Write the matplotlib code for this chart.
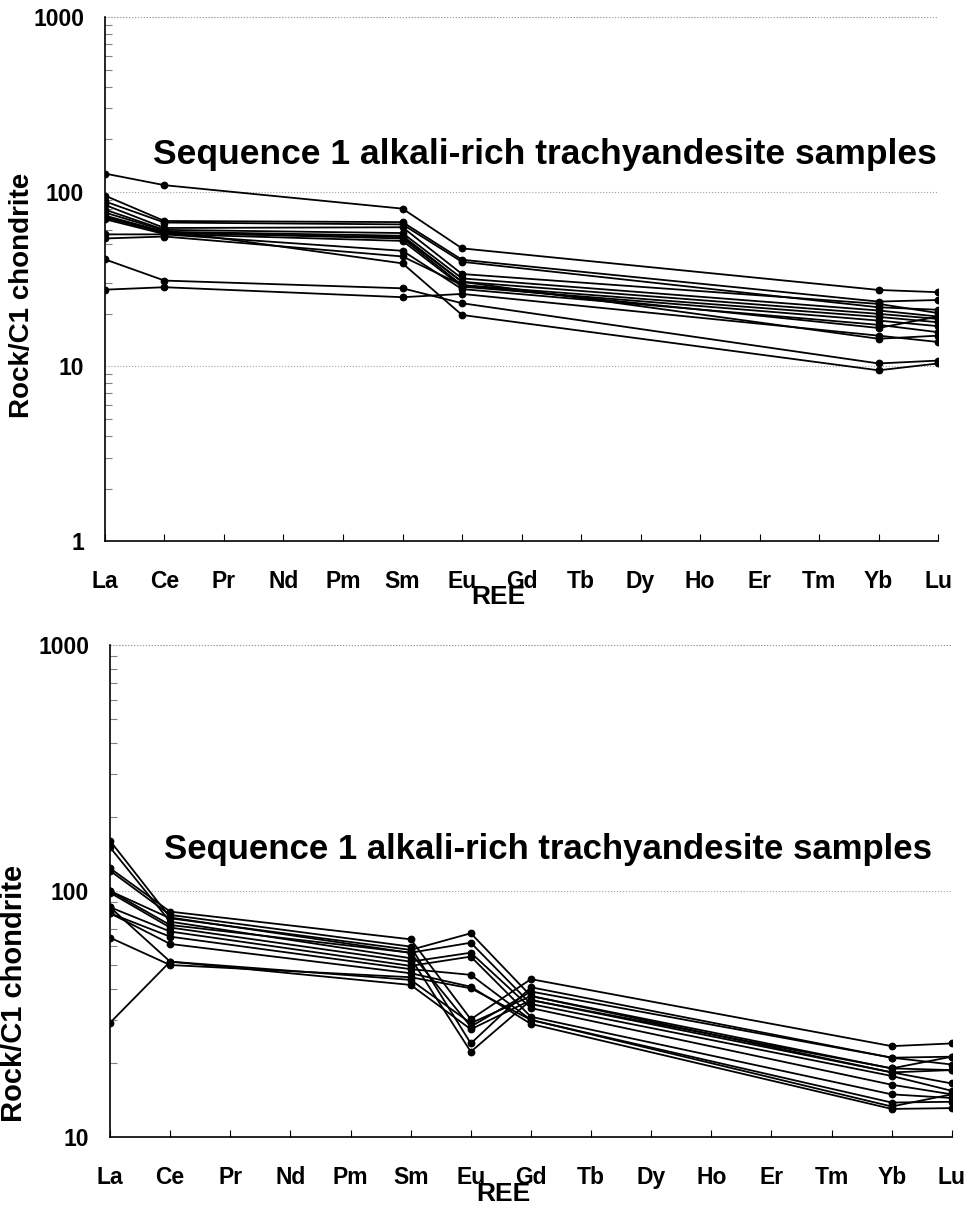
import matplotlib
matplotlib.use("Agg")
import matplotlib.pyplot as plt
import numpy as np
from matplotlib.ticker import LogLocator, FixedLocator, NullFormatter

plt.rcParams['font.family'] = ['Liberation Sans', 'DejaVu Sans']
plt.rcParams['font.weight'] = 'bold'

ree = ["La", "Ce", "Pr", "Nd", "Pm", "Sm", "Eu", "Gd", "Tb", "Dy", "Ho", "Er", "Tm", "Yb", "Lu"]
title = "Sequence 1 alkali-rich trachyandesite samples"

# upper diagram: chondrite-normalised values, one entry per sample
top_elems = ["La", "Ce", "Sm", "Eu", "Yb", "Lu"]
top_la = [127, 95, 88, 84, 79, 73, 71, 69.6, 57, 54, 76, 41, 27.5, 72]
top_ce = [109, 68, 66.6, 62, 60.5, 59, 58.4, 57.2, 57, 55.4, 60, 31, 28.4, 58]
top_sm = [80, 67, 65, 62.6, 58, 56, 54, 52.3, 45.9, 42.6, 38.9, 28, 24.9, 55]
top_eu = [47.4, 40.8, 39.7, 33.8, 31.9, 30.5, 29.2, 28.6, 27.7, 29.2, 19.7, 23.0, 26.0, 30.5]
top_yb = [27.4, 23.5, 21.8, 22.8, 20.9, 20.0, 19.2, 18.3, 17.3, 16.6, 9.5, 10.4, 15.0, 14.4]
top_lu = [26.6, 24.0, 21.1, 20.2, 19.3, 18.7, 17.9, 17.0, 15.7, 19.3, 10.4, 10.8, 13.8, 15.0]

# lower diagram
bot_elems = ["La", "Ce", "Sm", "Eu", "Gd", "Yb", "Lu"]
bot_la = [160, 150.5, 123.7, 120.9, 100, 100, 98.4, 85.9, 81.2, 81.2, 64.6, 29.1, 85.9]
bot_ce = [78, 75, 82.4, 79.9, 77.4, 72.7, 71.0, 68.4, 65.2, 60.9, 50.0, 51.6, 51.6]
bot_sm = [56, 53.3, 63.6, 59.4, 57.6, 56.1, 51.6, 49.6, 48.1, 46.3, 44.6, 43.5, 41.5]
bot_eu = [28.1, 22.2, 30.1, 24.0, 67.3, 61.6, 56.1, 54.1, 45.6, 40.8, 40.2, 29.0, 27.4]
bot_gd = [39.0, 36.0, 43.8, 40.6, 37.4, 34.7, 33.4, 30.8, 29.9, 28.8, 29.9, 37.4, 36.0]
bot_yb = [21.0, 19.0, 23.4, 21.0, 18.3, 17.7, 16.3, 14.9, 13.8, 13.0, 13.3, 19.0, 18.3]
bot_lu = [19.7, 18.7, 24.0, 21.2, 16.5, 15.4, 14.9, 14.4, 13.9, 13.1, 14.9, 21.2, 18.7]


def draw_panel(ax, elems, cols, ymin):
    x = [ree.index(e) for e in elems]
    data = np.array(cols).T
    for row in data:
        ax.plot(x, row, color="black", lw=1.3, marker="o", ms=4.6)

    ax.set_yscale("log")
    ax.set_ylim(ymin, 1000)
    ax.set_xlim(0, len(ree) - 1)

    ax.xaxis.set_major_locator(FixedLocator(range(len(ree))))
    ax.set_xticklabels(ree)
    ax.yaxis.set_major_locator(LogLocator(base=10))
    ax.yaxis.set_minor_locator(LogLocator(base=10, subs=np.arange(2, 10)))
    ax.yaxis.set_minor_formatter(NullFormatter())
    ax.set_yticklabels([str(int(v)) for v in ax.get_yticks()])
    ax.set_ylim(ymin, 1000)

    ax.tick_params(axis="both", which="both", direction="in", labelsize=16.5)
    ax.tick_params(axis="x", length=5, pad=21)
    ax.tick_params(axis="y", which="major", length=0, pad=15)
    ax.tick_params(axis="y", which="minor", length=5, width=0.8, color="#808080")

    ax.grid(axis="y", which="major", color="#a0a0a0", lw=0.8, ls=":")
    ax.spines["top"].set_visible(False)
    ax.spines["right"].set_visible(False)
    ax.spines["left"].set_linewidth(1.2)
    ax.spines["bottom"].set_linewidth(1.2)
    ax.axhline(1000, color="#a0a0a0", lw=0.8, ls=":", clip_on=False)


fig = plt.figure(figsize=(9.71, 12.16), dpi=100)

ax1 = fig.add_axes([0.1081, 0.555, 0.858, 0.431])
draw_panel(ax1, top_elems, [top_la, top_ce, top_sm, top_eu, top_yb, top_lu], 1)
ax1.set_xlabel("REE", fontsize=19, fontweight="bold")
ax1.xaxis.set_label_coords(0.472, -0.107)
ax1.xaxis.label.set_va("center")
fig.text(0.023, 0.757, "Rock/C1 chondrite", rotation=90, fontsize=20,
         fontweight="bold", ha="center", va="center")
fig.text(0.561, 0.873, title, fontsize=25.5, fontweight="bold", ha="center", va="center")

ax2 = fig.add_axes([0.1133, 0.065, 0.867, 0.4046])
draw_panel(ax2, bot_elems, [bot_la, bot_ce, bot_sm, bot_eu, bot_gd, bot_yb, bot_lu], 10)
ax2.set_xlabel("REE", fontsize=19, fontweight="bold")
ax2.xaxis.set_label_coords(0.467, -0.115)
ax2.xaxis.label.set_va("center")
fig.text(0.014, 0.183, "Rock/C1 chondrite", rotation=90, fontsize=21,
         fontweight="bold", ha="center", va="center")
fig.text(0.564, 0.301, title, fontsize=25, fontweight="bold", ha="center", va="center")

fig.savefig("out.png", dpi=100)
